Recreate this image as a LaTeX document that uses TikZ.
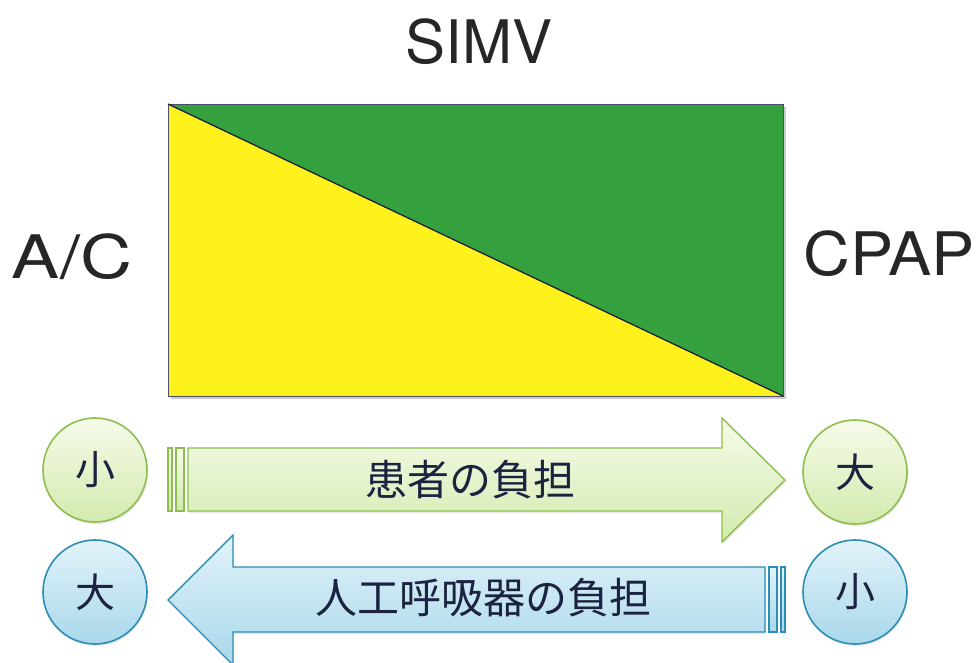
\documentclass[tikz,border=0pt]{standalone}
\usepackage{fontspec}
\setmainfont{Noto Sans CJK JP}
\newfontfamily\latinfont{TeX Gyre Heros}
\usetikzlibrary{shadows}
\definecolor{rectyellow}{HTML}{FFF21C}
\definecolor{rectgreen}{HTML}{34A13E}
\definecolor{navy}{HTML}{1C2340}
\definecolor{gline}{HTML}{8DBF4E}
\definecolor{gtop}{HTML}{F6FBEA}
\definecolor{gbot}{HTML}{D3EAAE}
\definecolor{bline}{HTML}{2E8DB4}
\definecolor{btop}{HTML}{E2F3F9}
\definecolor{bbot}{HTML}{A9D8EB}
\definecolor{txt}{HTML}{262626}
\tikzset{
  softshadow/.style={drop shadow={opacity=0.18, shadow xshift=1pt, shadow yshift=-2pt}},
  bigtxt/.style={text=txt, font=\latinfont\fontsize{60}{64}\selectfont, inner sep=0pt, anchor=base},
  gcirc/.style={circle, draw=gline, line width=1.6pt, top color=gtop, bottom color=gbot, minimum size=104pt, inner sep=0pt, text=navy, font=\fontsize{40}{44}\selectfont, softshadow},
  bcirc/.style={circle, draw=bline, line width=1.6pt, top color=btop, bottom color=bbot, minimum size=104pt, inner sep=0pt, text=navy, font=\fontsize{40}{44}\selectfont, softshadow},
  garrow/.style={draw=gline, line width=1.4pt, top color=gtop, bottom color=gbot, line join=miter},
  barrow/.style={draw=bline, line width=1.4pt, top color=btop, bottom color=bbot, line join=miter},
  arrtxt/.style={text=navy, font=\fontsize{42}{46}\selectfont, inner sep=0pt},
}
\begin{document}
\begin{tikzpicture}[x=1pt,y=-1pt]
\useasboundingbox (0,0) rectangle (979,662);
\fill[white] (0,0) rectangle (979,662);
% main rectangle
\coordinate (tl) at (168,104);
\coordinate (br) at (783,396);
\fill[gray!40] (171,107) rectangle (786,399);
\fill[rectyellow] (tl) -- (br) -- (168,396) -- cycle;
\fill[rectgreen] (tl) -- (783,104) -- (br) -- cycle;
\draw[navy!80, line width=0.6pt] (tl) rectangle (br);
\draw[navy, line width=1.3pt] (tl) -- (br);
% labels
\node[bigtxt] (simv) at (479,63) {SIMV};
\node[bigtxt, xscale=1.2] (ac) at (72,278) {A/C};
\node[bigtxt, xscale=1.08] (cpap) at (889,275) {CPAP};
% green arrow (left to right)
\path[garrow] (168,448) rectangle (172,511);
\path[garrow] (176,448) rectangle (184,511);
\path[garrow, softshadow] (188,448) -- (722,448) -- (722,418) -- (785,480) -- (722,542) -- (722,511) -- (188,511) -- cycle;
\node[arrtxt] (g1) at (470,480) {患者の負担};
% blue arrow (right to left)
\path[barrow] (785,567) rectangle (781,632);
\path[barrow] (777,567) rectangle (769,632);
\path[barrow, softshadow] (765,567) -- (233,567) -- (233,535) -- (168,600) -- (233,665) -- (233,632) -- (765,632) -- cycle;
\node[arrtxt] (b1) at (483,598) {人工呼吸器の負担};
% circles
\node[gcirc] (gsmall) at (95,470) {小};
\node[gcirc] (gbig) at (855,472) {大};
\node[bcirc] (bbig) at (95,592) {大};
\node[bcirc] (bsmall) at (855,592) {小};
\end{tikzpicture}
\end{document}
